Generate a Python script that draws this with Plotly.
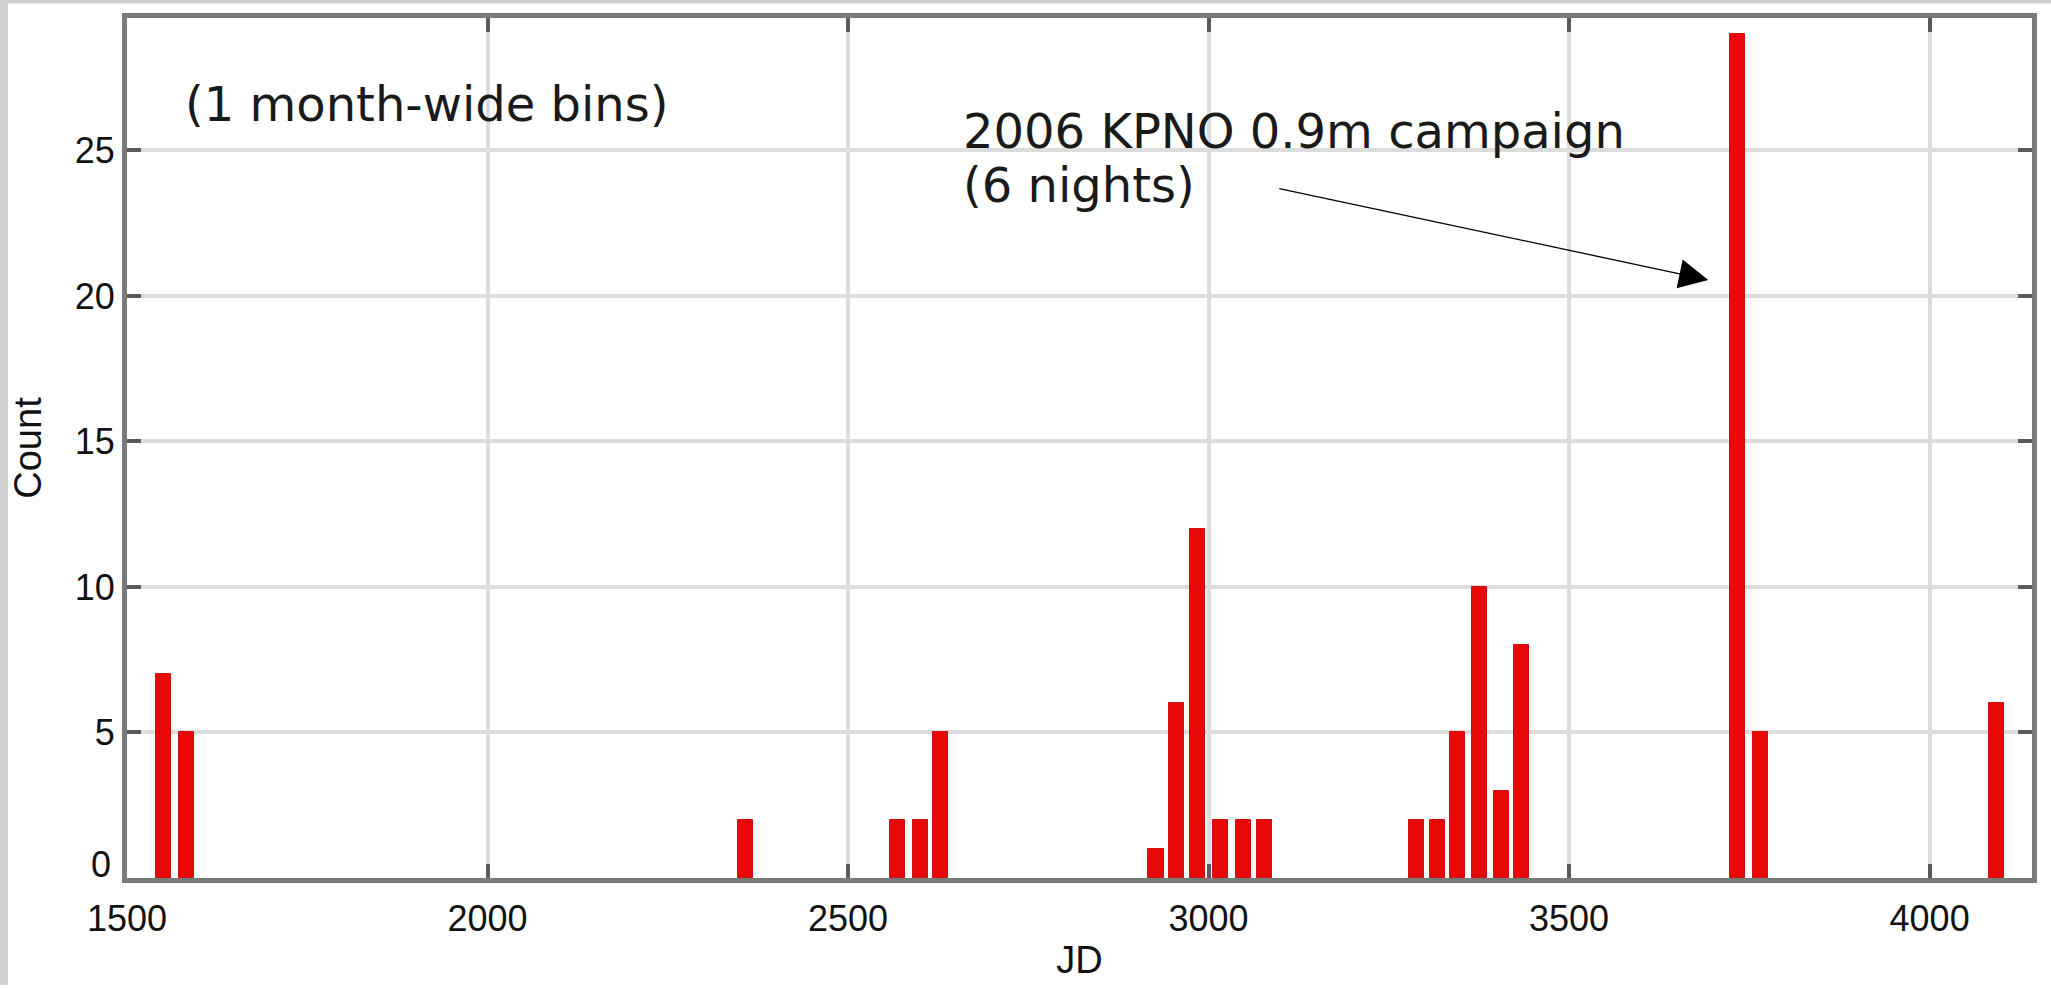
import plotly.graph_objects as go

# Bin centres (JD) and counts
jd_bins = [1551, 1582, 2358, 2569, 2600, 2628, 2927, 2956, 2985, 3017, 3048, 3077,
           3288, 3317, 3345, 3376, 3406, 3434, 3734, 3765, 4093]
counts = [7, 5, 2, 2, 2, 5, 1, 6, 12, 2, 2, 2, 2, 2, 5, 10, 3, 8, 29, 5, 6]

x_ticks = [1500, 2000, 2500, 3000, 3500, 4000]
y_ticks = [5, 10, 15, 20, 25]
y_zero_label = "0"

fig = go.Figure()
fig.add_trace(go.Bar(
    x=jd_bins, y=counts, width=21,
    marker=dict(color="#e80808", line=dict(color="#d01010", width=1)),
    showlegend=False,
))

axis_common = dict(
    showline=True, linecolor="#7a7a7a", linewidth=5, mirror="ticks",
    showgrid=True, gridcolor="#dcdcdc", gridwidth=4,
    ticks="inside", ticklen=14, tickwidth=4, tickcolor="#5a5a5a",
    tickfont=dict(family="Liberation Sans", size=36, color="#111"),
    zeroline=False,
)

tick_font = dict(family="Liberation Sans", size=36, color="#111")

fig.update_layout(
    width=2051, height=988,
    margin=dict(l=127, r=19, t=18, b=107),
    paper_bgcolor="white", plot_bgcolor="white",
    xaxis=dict(range=[1500, 4142], tickvals=x_ticks, ticklabelstandoff=5,
               title=dict(text="JD", font=dict(family="Liberation Sans", size=38, color="#111"), standoff=10),
               **axis_common),
    yaxis=dict(range=[0, 29.55], tickvals=y_ticks,
               title=dict(text="Count", font=dict(family="Liberation Sans", size=38, color="#111"), standoff=23),
               **axis_common),
    bargap=0,
)

# the "0" label of the y axis sits slightly raised in the reference
fig.add_annotation(x=0, y=0, xref="paper", yref="y", text=y_zero_label, showarrow=False,
                   xanchor="right", yanchor="middle", xshift=-14, yshift=14, font=tick_font)

txt_font = dict(family="DejaVu Sans", size=48, color="#1a1a1a")
fig.add_annotation(x=1578, y=26.6, xref="x", yref="y", text="(1 month-wide bins)",
                   showarrow=False, xanchor="left", yanchor="middle", font=txt_font)
fig.add_annotation(x=2657, y=25.68, xref="x", yref="y", text="2006 KPNO 0.9m campaign",
                   showarrow=False, xanchor="left", yanchor="middle", font=txt_font)
fig.add_annotation(x=2657, y=23.8, xref="x", yref="y", text="(6 nights)",
                   showarrow=False, xanchor="left", yanchor="middle", font=txt_font)
fig.add_annotation(x=3693, y=20.55, ax=3096, ay=23.7, xref="x", yref="y", axref="x", ayref="y",
                   text="", showarrow=True, arrowhead=2, arrowsize=4.5, arrowwidth=1.3,
                   arrowcolor="black")

# light grey frame edges of the original screenshot
fig.add_shape(type="rect", xref="paper", yref="paper", x0=-0.0667, x1=-0.0625, y0=-0.124, y1=1.021,
              fillcolor="#cfcfcf", line=dict(width=0), layer="below")
fig.add_shape(type="rect", xref="paper", yref="paper", x0=-0.0667, x1=1.01, y0=1.017, y1=1.021,
              fillcolor="#cfcfcf", line=dict(width=0), layer="below")

fig.write_html("out.html")
